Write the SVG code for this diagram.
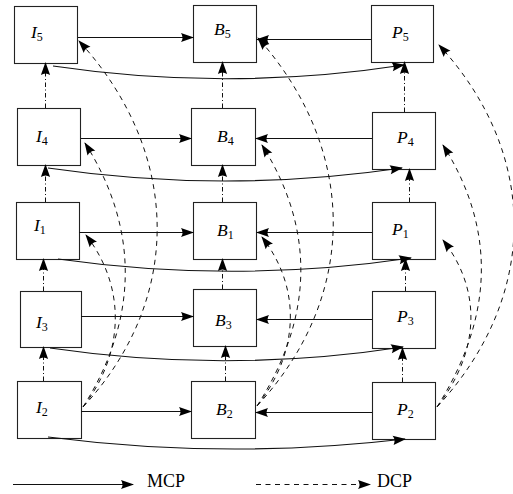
<svg xmlns="http://www.w3.org/2000/svg" width="513" height="494" viewBox="0 0 513 494">
  <defs>
    <marker id="tip" markerUnits="userSpaceOnUse" markerWidth="14" markerHeight="12" refX="12" refY="5" orient="auto" overflow="visible">
      <path d="M0,0.4 Q3,5 0,9.6 L13,5 Z" fill="#000"/>
    </marker>
    <style>
      .box { fill: #fff; stroke: #222; stroke-width: 1.1; }
      .lbl { font-family: "Liberation Serif", "DejaVu Serif", serif; font-style: italic; font-size: 17.5px; fill: #000; }
      .sub { font-style: normal; font-size: 12px; }
      .leg { font-family: "Liberation Serif", "DejaVu Serif", serif; font-size: 18px; fill: #000; }
      .mcp { fill: none; stroke: #111; stroke-width: 1.1; marker-end: url(#tip); }
      .dcp { fill: none; stroke: #111; stroke-width: 1; stroke-dasharray: 5 4.5; marker-end: url(#tip); }
      .dd  { fill: none; stroke: #111; stroke-width: 1; stroke-dasharray: 4.5 2.5 1 2.5; marker-end: url(#tip); }
    </style>
  </defs>

  <!-- I column -->
  <g id="I5"><rect class="box" x="14.5" y="6.5" width="63" height="57"/><text class="lbl" x="31" y="38">I<tspan class="sub" dy="3">5</tspan></text></g>
  <g id="I4"><rect class="box" x="17.5" y="108.5" width="63" height="57"/><text class="lbl" x="36" y="142">I<tspan class="sub" dy="3">4</tspan></text></g>
  <g id="I1"><rect class="box" x="16.5" y="202.5" width="63" height="57"/><text class="lbl" x="34" y="231">I<tspan class="sub" dy="3">1</tspan></text></g>
  <g id="I3"><rect class="box" x="20.5" y="291.5" width="61" height="56"/><text class="lbl" x="36" y="328">I<tspan class="sub" dy="3">3</tspan></text></g>
  <g id="I2"><rect class="box" x="17.5" y="381.5" width="64" height="57"/><text class="lbl" x="36" y="413">I<tspan class="sub" dy="3">2</tspan></text></g>

  <!-- B column -->
  <g id="B5"><rect class="box" x="193.5" y="5.5" width="63" height="57"/><text class="lbl" x="214" y="35">B<tspan class="sub" dy="3">5</tspan></text></g>
  <g id="B4"><rect class="box" x="191.5" y="108.5" width="64" height="57"/><text class="lbl" x="217" y="142">B<tspan class="sub" dy="3">4</tspan></text></g>
  <g id="B1"><rect class="box" x="193.5" y="202.5" width="63" height="57"/><text class="lbl" x="217" y="236">B<tspan class="sub" dy="3">1</tspan></text></g>
  <g id="B3"><rect class="box" x="193.5" y="289.5" width="63" height="57"/><text class="lbl" x="215" y="326">B<tspan class="sub" dy="3">3</tspan></text></g>
  <g id="B2"><rect class="box" x="191.5" y="381.5" width="64" height="57"/><text class="lbl" x="216" y="415">B<tspan class="sub" dy="3">2</tspan></text></g>

  <!-- P column -->
  <g id="P5"><rect class="box" x="371.5" y="5.5" width="62" height="57"/><text class="lbl" x="392" y="38">P<tspan class="sub" dy="3">5</tspan></text></g>
  <g id="P4"><rect class="box" x="372.5" y="112.5" width="63" height="57"/><text class="lbl" x="397" y="143">P<tspan class="sub" dy="3">4</tspan></text></g>
  <g id="P1"><rect class="box" x="372.5" y="202.5" width="63" height="57"/><text class="lbl" x="392" y="235">P<tspan class="sub" dy="3">1</tspan></text></g>
  <g id="P3"><rect class="box" x="372.5" y="291.5" width="63" height="57"/><text class="lbl" x="397" y="322">P<tspan class="sub" dy="3">3</tspan></text></g>
  <g id="P2"><rect class="box" x="372.5" y="382.5" width="63" height="57"/><text class="lbl" x="397" y="415">P<tspan class="sub" dy="3">2</tspan></text></g>

  <g id="connectors">
    <!-- horizontal MCP links -->
    <path class="mcp" d="M78,37.5 H193"/>
    <path class="mcp" d="M371,39.5 H257"/>
    <path class="mcp" d="M81,138.5 H191"/>
    <path class="mcp" d="M372,138.5 H256"/>
    <path class="mcp" d="M79,232.5 H193"/>
    <path class="mcp" d="M372,232.5 H257"/>
    <path class="mcp" d="M81,316.5 H193"/>
    <path class="mcp" d="M372,319.5 H257"/>
    <path class="mcp" d="M81,411.5 H191"/>
    <path class="mcp" d="M372,412.5 H256"/>

    <!-- curved MCP links I -> P -->
    <path class="mcp" d="M53,66 Q228,92 404,65"/>
    <path class="mcp" d="M48,168 Q225,194 402,168"/>
    <path class="mcp" d="M58,259 Q235,284 411,258"/>
    <path class="mcp" d="M50,348 Q227,374 403,347"/>
    <path class="mcp" d="M48,437 Q227,460 405,439"/>

    <!-- vertical dash-dot links -->
    <path class="dd" d="M45.5,108 V63"/>
    <path class="dd" d="M45.5,202 V165"/>
    <path class="dd" d="M43.5,291 V259"/>
    <path class="dd" d="M43.5,381 V347"/>
    <path class="dd" d="M222.5,108 V62"/>
    <path class="dd" d="M222.5,202 V165"/>
    <path class="dd" d="M222.5,289 V259"/>
    <path class="dd" d="M225.5,381 V346"/>
    <path class="dd" d="M404.5,112 V62"/>
    <path class="dd" d="M409.5,202 V169"/>
    <path class="dd" d="M405.5,291 V259"/>
    <path class="dd" d="M402.5,382 V348"/>

    <!-- dashed DCP links -->
    <path class="dcp" d="M83,407 C185,297 180,151 79,41"/>
    <path class="dcp" d="M83,407 C138,320 140,230 85,143"/>
    <path class="dcp" d="M83,407 C124,354 127,288 86,235"/>
    <path class="dcp" d="M257,406 C359,296 358,150 258,38"/>
    <path class="dcp" d="M257,406 C312,320 317,232 262,145"/>
    <path class="dcp" d="M257,406 C298,354 303,290 262,237"/>
    <path class="dcp" d="M437,407 C539,297 540,155 439,45"/>
    <path class="dcp" d="M437,407 C492,320 498,232 443,145"/>
    <path class="dcp" d="M437,407 C478,354 484,293 443,240"/>
  </g>

  <!-- legend -->
  <g id="legend">
    <path class="mcp" d="M13,484.5 H133"/>
    <text class="leg" x="147" y="487">MCP</text>
    <path class="dcp" d="M256,484.5 H370"/>
    <text class="leg" x="377" y="487">DCP</text>
  </g>
</svg>
